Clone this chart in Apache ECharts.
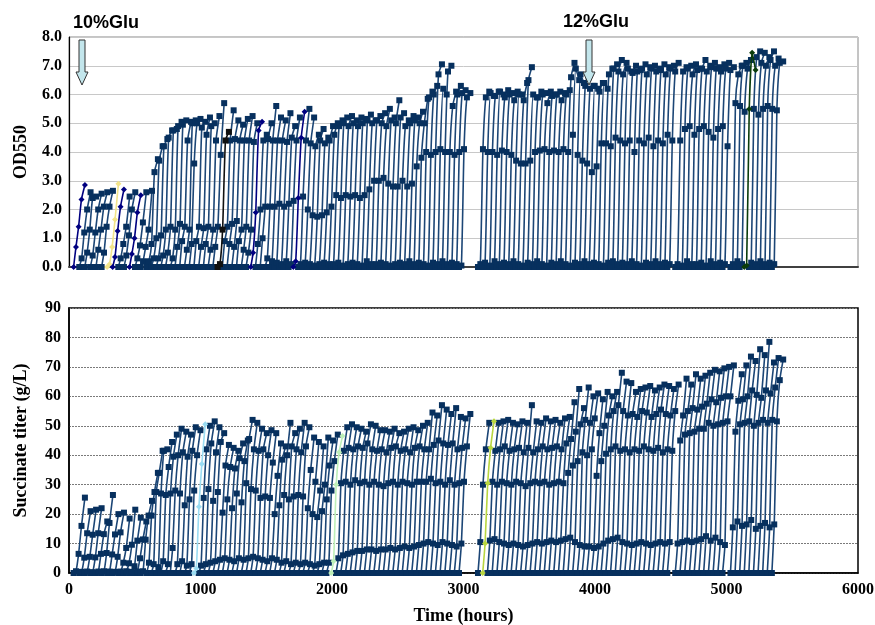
<!DOCTYPE html>
<html>
<head>
<meta charset="utf-8">
<script src="https://cdn.jsdelivr.net/npm/echarts@6/dist/echarts.min.js"></script>
<style>
  html, body { margin: 0; padding: 0; background: #fff; }
  #main { width: 875px; height: 625px; }
</style>
</head>
<body>
<div id="main"></div>
<script>
// sampling times within one batch (hours after transfer)
const sampleHours = [0, 18, 38, 60, 86];

// transfer (batch start) times, hours
const startHours = [
  35, 78, 120, 162, 205, 248, 290, 332, 375, 418, 460, 502, 545,
  590, 626, 662, 698, 734, 770, 806, 842, 878, 914, 950, 986, 1022, 1058, 1094,
  1130, 1166, 1202, 1238, 1274, 1310, 1346, 1382, 1418, 1454,
  1490, 1526, 1562, 1598, 1634, 1670, 1706, 1742, 1778, 1814, 1850, 1886, 1922, 1958,
  1994, 2030, 2066, 2102, 2138, 2174, 2210, 2246, 2282, 2318, 2354, 2390, 2426, 2462,
  2498, 2534, 2570, 2606, 2642,
  2678, 2714, 2750, 2786, 2822, 2858, 2894, 2930, 2966,
  3110, 3146, 3182, 3218, 3254, 3290, 3326, 3362, 3398, 3434, 3470, 3506, 3542, 3578,
  3614, 3650, 3686, 3722,
  3758, 3794, 3830, 3866, 3902, 3938, 3974, 4010,
  4046, 4082, 4118, 4154, 4190, 4226, 4262, 4298, 4334, 4370, 4406, 4442, 4478, 4514, 4550,
  4610, 4646, 4682, 4718, 4754, 4790, 4826, 4862, 4898, 4934, 4970,
  5030, 5065, 5100, 5135, 5170, 5205, 5240, 5275, 5310, 5345
];

// OD550 readings for each batch at sampleHours
const odRuns = [
  [0,0.7,1.4,2.35,2.85],[0,0.3,1.2,2.0,2.6],[0,0.5,1.3,2.4,2.45],[0,0.4,1.2,2.0,2.55],
  [0,0.6,1.3,2.1,2.6],[0,0.5,1.4,2.1,2.65],[0,0.1,0.7,1.65,2.9],[0,0.35,1.25,2.1,2.7],
  [0,0.3,0.8,1.4,2.45],[0,0.4,1.1,2.0,2.6],[0,0.45,1.0,1.9,2.5],[0,0.3,0.75,1.55,2.6],
  [0,0.2,0.7,1.3,2.65],
  // 590-1094
  [0,0.2,0.8,3.3,3.75],[0,0.3,1.0,3.7,4.2],[0,0.3,1.1,4.2,4.45],[0,0.4,1.3,4.5,4.75],
  [0,0.5,1.4,4.75,4.8],[0,0.3,1.3,4.9,5.05],[0,0.7,1.5,4.95,5.1],[0,0.9,1.4,4.4,5.05],
  [0,0.6,1.3,5.0,5.1],[0,0.8,3.6,5.0,5.15],[0,0.9,1.4,4.85,5.05],[0,0.7,1.35,4.6,5.2],
  [0,0.8,1.4,4.9,5.0],[0,0.6,1.3,4.4,5.25],[0,0.7,1.4,3.9,5.7],
  // 1130-1454
  [0,0.1,1.3,4.4,4.7],[0,0.9,1.4,4.4,5.45],[0,0.8,1.5,4.45,5.1],[0,0.7,1.6,4.4,4.95],
  [0,0.9,1.3,4.4,5.15],[0,0.6,1.4,4.4,5.25],[0,0.5,1.3,4.35,5.0],[0,0.5,1.9,4.75,5.05],
  [0,0.8,2.0,4.4,4.6],[0,1.0,2.1,4.45,5.0],
  // 1490-1958
  [0,0.3,2.1,4.4,5.6],[0,0.2,2.1,4.4,5.2],[0,0.15,2.2,4.4,5.1],[0,0.1,2.1,4.35,5.35],
  [0,0.2,2.2,4.5,4.9],[0,0.1,2.3,4.4,5.2],[0,0.2,2.4,4.5,5.4],[0,0.1,2.45,4.4,5.5],
  [0,0.15,2.0,4.3,5.2],[0,0.1,1.8,4.2,4.6],[0,0.05,1.75,4.4,4.8],[0,0.1,1.8,4.3,4.5],
  [0,0.15,1.9,4.4,4.9],[0,0.1,2.1,4.6,5.0],
  // 1994-2642
  [0,0.1,2.5,4.9,5.1],[0,0.15,2.4,5.0,5.2],[0,0.05,2.5,4.9,5.25],[0,0.1,2.45,5.0,5.1],
  [0,0.15,2.5,4.9,5.2],[0,0.1,2.4,5.0,5.15],[0,0.05,2.5,5.1,5.3],[0,0.2,2.7,5.0,5.1],
  [0,0.1,3.0,5.1,5.25],[0,0.1,3.0,5.0,5.35],[0,0.15,3.1,4.9,5.5],[0,0.1,2.9,5.1,5.2],
  [0,0.05,2.8,5.0,5.8],[0,0.1,2.8,5.2,5.35],[0,0.15,3.0,4.9,5.1],[0,0.1,2.8,5.0,5.25],
  [0,0.2,2.9,5.1,5.2],[0,0.1,3.5,5.0,5.4],[0,0.15,3.8,5.0,5.85],
  // 2678-2966
  [0,0.1,4.0,5.9,6.1],[0,0.05,3.9,6.0,6.3],[0,0.15,4.0,6.7,7.05],[0,0.1,4.1,6.2,6.0],
  [0,0.2,4.0,6.8,7.0],[0,0.1,4.0,5.6,6.1],[0,0.15,3.9,6.0,6.3],[0,0.1,4.0,6.05,6.15],
  [0,0.05,4.1,5.9,6.05],
  // 3110-3722
  [0,0.1,4.1,5.9,6.1],[0,0.15,4.0,6.05,5.95],[0,0.05,4.0,5.95,6.1],[0,0.2,3.9,6.1,6.0],
  [0,0.1,4.05,5.9,6.15],[0,0.15,4.0,6.0,6.05],[0,0.1,3.9,5.8,6.1],[0,0.2,3.7,6.0,6.0],
  [0,0.1,3.6,5.8,6.4],[0,0.05,3.6,6.5,6.95],[0,0.15,3.7,6.0,5.9],[0,0.1,4.0,5.9,6.1],
  [0,0.2,4.05,6.0,6.05],[0,0.1,4.1,5.7,6.1],[0,0.05,4.0,5.95,6.0],[0,0.15,4.05,6.0,6.1],
  [0,0.1,4.0,5.8,6.05],[0,0.2,4.1,6.0,6.15],
  // 3758-4010
  [0,0.1,4.0,6.6,7.1],[0,0.05,4.6,6.9,6.5],[0,0.15,3.9,6.7,6.4],[0,0.1,3.7,6.3,6.6],
  [0,0.2,3.6,6.2,6.3],[0,0.1,3.3,6.3,6.2],[0,0.15,3.5,6.1,6.4],[0,0.1,4.3,6.4,6.2],
  // 4046-4550
  [0,0.05,4.3,6.7,6.9],[0,0.15,4.2,6.9,7.05],[0,0.2,4.5,6.8,7.2],[0,0.1,4.4,6.7,7.1],
  [0,0.15,4.3,6.9,6.8],[0,0.1,4.4,6.75,7.0],[0,0.2,4.0,6.8,6.85],[0,0.1,4.4,6.9,7.05],
  [0,0.05,4.3,6.7,6.95],[0,0.15,4.5,6.9,7.0],[0,0.1,4.2,6.8,6.9],[0,0.2,4.4,6.85,7.05],
  [0,0.1,4.3,6.7,6.95],[0,0.15,4.6,6.9,7.0],[0,0.1,4.4,6.8,7.1],
  // 4610-4970
  [0,0.1,4.4,6.8,6.95],[0,0.05,4.8,6.9,7.0],[0,0.2,4.9,6.7,7.05],[0,0.1,4.6,6.85,6.9],
  [0,0.1,4.8,6.9,7.2],[0,0.15,4.9,6.8,7.0],[0,0.05,4.7,6.95,7.1],[0,0.2,4.5,6.9,6.95],
  [0,0.1,4.8,6.8,7.05],[0,0.15,4.9,6.9,7.1],[0,0.1,4.2,6.85,6.95],
  // 5030-5345
  [0,0.1,5.7,6.7,7.0],[0,0.2,5.6,7.0,7.1],[0,0.1,5.4,6.9,7.2],[0,0.05,5.5,7.45,6.85],
  [0,0.15,5.5,7.3,7.5],[0,0.1,5.3,7.1,7.45],[0,0.2,5.5,7.0,7.3],[0,0.1,5.6,7.2,7.5],
  [0,0.15,5.5,7.0,7.25],[0,0.1,5.45,7.1,7.15]
];

// succinate titer (g/L) for each batch at sampleHours
const titerRuns = [
  [0,0.6,6.5,16,25.6],[0,0.4,5.2,13.5,21],[0,0.5,5.5,13,21.5],[0,0.3,5.3,13.5,22],
  [0,0.5,6.5,13.2,17.5],[0,0.6,6.8,17,26.5],[0,0.5,6.3,13.1,20],[0,0.4,5.5,13.8,20.5],
  [0,0.5,3.5,8.5,18.5],[0,0.6,3.3,9.6,21.5],[0,0.4,2.3,11,18.8],[0,0.5,5,11.4,17.5],
  [0,0.6,11.3,19.5,24.5],
  // 590-1094
  [0,3.5,19.5,27.5,34],[0,3,27.5,34,41.5],[0,2,27,41.5,42],[0,4,26.5,36,44.5],
  [0,3,27,39.5,47],[0,8.5,28,40,49],[0,3,27,41,48],[0,4,23,39.5,47],
  [0,2.5,25,41.5,49.5],[0,3,28,40,48.5],[0,1.5,22.5,37,50.5],[0,2.5,25.5,42,50],
  [0,3,28.5,44,51.5],[0,3.5,24.5,41,49.5],[0,4,27.5,44.5,47.5],
  // 1130-1454
  [0,4.5,20.5,36.5,43.5],[0,5,25,36,42.5],[0,4.5,22,35.5,41.5],[0,4,27,39,44],
  [0,5,24,38,45],[0,4.5,30.5,45.5,52],[0,5,28.5,42,51],[0,5.5,28,41.5,49],
  [0,5,25.5,42,47.5],[0,4.5,26,40,48.5],
  // 1490-1958
  [0,4,25.5,37.5,47.5],[0,5,20,33,44],[0,4.5,23,38.5,43],[0,3.5,26.5,40,51],
  [0,4,25,43,47.5],[0,3,26,42,49],[0,3.5,26.5,41,51],[0,3,26,43,49.5],
  [0,3.5,22,35,46],[0,3,20,31,44.5],[0,2.5,19,28,43],[0,3,21,30,46],
  [0,3.5,25,36.5,45],[0,3.5,28,38,47],
  // 1994-2642
  [0,4,30,41,46.5],[0,5,30.5,41.5,49.5],[0,6,31,42.5,50.5],[0,6.5,30,42,49.5],
  [0,7,31.5,43,49],[0,7.5,30.5,42.5,48],[0,7.5,31,44,50.5],[0,8,30,42,50],
  [0,8,31,41.5,48.5],[0,7.5,30,42,48.5],[0,8,29.5,41,48],[0,8,30.5,42.5,49],
  [0,8.5,31,43,47.5],[0,8,30,41.5,48],[0,8.5,31,42,49],[0,9,30.5,41,49.5],
  [0,8.5,30,42.5,48.5],[0,9,31,43,50],[0,9.5,31,42,51],
  // 2678-2966
  [0,10,31,42,54.5],[0,10.5,32,43.5,53.5],[0,10,30.5,45,57],[0,9.5,31,44,55.5],
  [0,10.5,30,43.5,54],[0,10,31.5,44,56],[0,9.5,30,42,53],[0,9,30.5,42.5,52.5],
  [0,10,31,43,54],
  // 3110-3722
  [0,10.5,30,42,51],[0,10,30.5,42.5,51.5],[0,11,31,41.5,51],[0,11.5,30,42,51.5],
  [0,10.5,31,43,52],[0,10,30.5,41.5,51],[0,9.5,30,42,50.5],[0,10,31,42.5,51.5],
  [0,9.5,30.5,41,51],[0,9,29.5,42.5,57],[0,9.5,30.5,41,51.5],[0,10,31,42,51],
  [0,10.5,30.5,43,52.5],[0,10,31,42,51.5],[0,10.5,30,42.5,52],[0,11,30.5,43,51],
  [0,10.5,31,42,52.5],[0,11,30.5,44,53],
  // 3758-4010
  [0,11.5,34,45.5,58],[0,12,36.5,48,62.5],[0,10.5,38,50.5,56],[0,9.5,41,52,63],
  [0,9,40,51,60],[0,9,42,52.5,61],[0,8.5,33,47.5,59],[0,9,38,50,61.5],
  // 4046-4550
  [0,10,40.5,53.5,60],[0,11,42,55,61.5],[0,11.5,43,57,68],[0,12,41.5,55,65],
  [0,10.5,42,53.5,64.5],[0,10,41,54,61.5],[0,9.5,42,53,62.5],[0,10,41.5,55,63],
  [0,10.5,43,54.5,63.5],[0,10,42,53,62],[0,9.5,41.5,54,63],[0,10,42.5,55.5,64],
  [0,10.5,41,54,63.5],[0,10,42,53.5,62.5],[0,10.5,41.5,55,64],
  // 4610-4970
  [0,10,45,53.5,66],[0,10.5,47,55,64],[0,11,47.5,56,67.5],[0,10.5,48,55.5,66],
  [0,11,49,56.5,67],[0,11.5,49,57.5,68],[0,12.5,51,59,69],[0,11,50,58,68.5],
  [0,12,50.5,59.5,69.5],[0,10.5,51,60,70],[0,9.5,51.5,60,70.5],
  // 5030-5345
  [0,15.5,48,58.5,67.5],[0,17.5,50.5,59,70.5],[0,16,51,60,73.5],[0,16.5,51.5,62,72],
  [0,18,50,60.5,76],[0,15,51,59.5,74],[0,16,52,62,78.5],[0,17,51,61,71.5],
  [0,15.5,52,63,73],[0,16.5,51.5,65.5,72.5]
];

const xTicks = [0, 1000, 2000, 3000, 4000, 5000, 6000];

// a few batches drawn in other colours in the original plot
const odAccent = { 0: '#000080', 6: '#F2E48A', 7: '#000080', 10: '#000080', 28: '#111111', 35: '#000080', 44: '#000080', 135: '#0B3D0B' };
const titerAccent = { 23: '#9ADCF2', 52: '#BDEFB8', 81: '#B8D640' };

const lineColor = '#1C4676';
const markColor = '#07305E';
const serif = 'Liberation Serif';

let myChart = echarts.init(document.getElementById('main'));

function makeSeries(runs, accent, axisIdx) {
  return runs.map((vals, i) => {
    const odd = accent[i] !== undefined;
    const c = odd ? accent[i] : lineColor;
    return {
      type: 'line',
      xAxisIndex: axisIdx,
      yAxisIndex: axisIdx,
      data: vals.map((v, k) => [startHours[i] + sampleHours[k], v]),
      smooth: 0.2,
      symbol: odd && c !== '#111111' ? 'diamond' : 'rect',
      symbolSize: 6,
      lineStyle: { color: c, width: 1.6 },
      itemStyle: { color: odd ? c : markColor },
      silent: true,
      animation: false,
      z: odd ? 3 : 2
    };
  });
}

const labelStyle = { fontFamily: serif, fontWeight: 'bold', fontSize: 16, color: '#000' };
const nameStyle = { fontFamily: serif, fontWeight: 'bold', fontSize: 18, color: '#000' };

function arrow(x) {
  return {
    type: 'polygon',
    shape: { points: [[x - 3, 40], [x + 3, 40], [x + 3, 72], [x + 6, 72], [x, 85], [x - 6, 72], [x - 3, 72]] },
    style: { fill: '#C3E6EC', stroke: '#333', lineWidth: 1 },
    z: 10
  };
}

let option = {
  backgroundColor: '#fff',
  animation: false,
  grid: [
    { left: 69, right: 17, top: 37, height: 230, show: true, borderColor: '#8a8a8a', borderWidth: 1, outerBoundsMode: 'none' },
    { left: 69, right: 17, top: 308, height: 265, show: true, borderColor: '#000', borderWidth: 1.5, outerBoundsMode: 'none' }
  ],
  xAxis: [
    {
      gridIndex: 0, type: 'value', min: 0, max: 6000, interval: 1000,
      axisLabel: { show: false }, axisTick: { show: false }, splitLine: { show: false },
      axisLine: { onZero: false, lineStyle: { color: '#404040', width: 2 } }
    },
    {
      gridIndex: 1, type: 'value', min: 0, max: 6000, interval: 1000,
      axisLabel: Object.assign({ margin: 9, formatter: v => xTicks.includes(v) ? String(v) : '' }, labelStyle),
      axisTick: { show: false }, splitLine: { show: false },
      axisLine: { onZero: false, lineStyle: { color: '#000', width: 1.5 } },
      name: 'Time (hours)', nameLocation: 'middle', nameGap: 34, nameTextStyle: nameStyle
    }
  ],
  yAxis: [
    {
      gridIndex: 0, type: 'value', min: 0, max: 8, interval: 1,
      axisLabel: Object.assign({ margin: 7, formatter: v => v.toFixed(1) }, labelStyle),
      axisTick: { show: false },
      axisLine: { show: true, lineStyle: { color: '#000', width: 1.2 } },
      splitLine: { lineStyle: { color: '#c8c8c8', width: 1 } },
      name: 'OD550', nameLocation: 'middle', nameGap: 39, nameTextStyle: nameStyle
    },
    {
      gridIndex: 1, type: 'value', min: 0, max: 90, interval: 10,
      axisLabel: Object.assign({ margin: 8 }, labelStyle),
      axisTick: { show: false },
      axisLine: { show: true, lineStyle: { color: '#000', width: 1.5 } },
      splitLine: { lineStyle: { color: '#7a7a7a', width: 1, type: [2, 1] } },
      name: 'Succinate titer (g/L)', nameLocation: 'middle', nameGap: 39, nameTextStyle: nameStyle
    }
  ],
  graphic: [
    { type: 'text', x: 73, y: 23, z: 10, style: { text: '10%Glu', font: 'bold 18px "Liberation Sans"', fill: '#000', textVerticalAlign: 'middle' } },
    { type: 'text', x: 563, y: 22, z: 10, style: { text: '12%Glu', font: 'bold 18px "Liberation Sans"', fill: '#000', textVerticalAlign: 'middle' } },
    arrow(82),
    arrow(589)
  ],
  series: makeSeries(odRuns, odAccent, 0).concat(makeSeries(titerRuns, titerAccent, 1))
};

myChart.setOption(option);
</script>
</body>
</html>
